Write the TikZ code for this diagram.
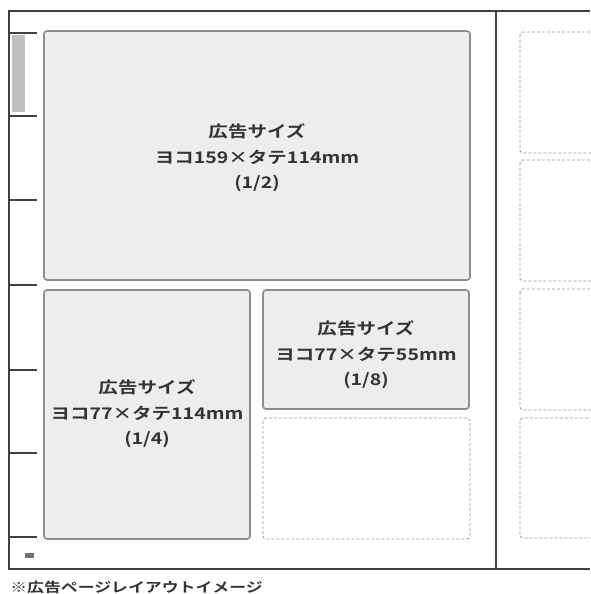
\documentclass[tikz,border=0pt]{standalone}
\usepackage{fontspec}
\setmainfont{Noto Sans CJK JP}[BoldFont={Noto Sans CJK JP Bold}]
\begin{document}
\begin{tikzpicture}[x=1pt,y=-1pt,
  frame/.style={draw=black!75,line width=1.8pt},
  tick/.style={draw=black!75,line width=1.4pt},
  adbox/.style={draw=black!45,fill=black!7,line width=1.6pt,rounded corners=3pt},
  emptybox/.style={draw=black!40,dashed,dash pattern=on 3pt off 2pt,line width=0.8pt,rounded corners=3pt},
  adtext/.style={align=center,font=\bfseries\fontsize{16}{25.5}\selectfont,text=black!80,xscale=1.22,inner sep=0pt}]
\useasboundingbox (0,0) rectangle (590,594);
% outer frame
\draw[frame] (590,11) -- (9,11) -- (9,569) -- (590,569);
\draw[frame] (496,11) -- (496,569);
% left ruler
\fill[black!25] (12,35) rectangle (25,112);
\foreach \y in {33,116,200,285,370,453,537} \draw[tick] (9,\y) -- (37,\y);
\fill[black!55] (25,553) rectangle (34,558);
% left page boxes
\draw[adbox] (44,31) rectangle (470,280);
\draw[adbox] (44,290) rectangle (250,539);
\draw[adbox] (263,290) rectangle (469,409);
\draw[emptybox] (263,418) rectangle (470,539);
% right page boxes
\draw[emptybox] (520,32) rectangle (600,153);
\draw[emptybox] (520,160) rectangle (600,281);
\draw[emptybox] (520,289) rectangle (600,410);
\draw[emptybox] (520,418) rectangle (600,538);
% texts
\node[adtext] (half) at (257,158) {広告サイズ\\ヨコ159×タテ114mm\\(1/2)};
\node[adtext] (quarter) at (147,414) {広告サイズ\\ヨコ77×タテ114mm\\(1/4)};
\node[adtext] (eighth) at (366,355) {広告サイズ\\ヨコ77×タテ55mm\\(1/8)};
\node[anchor=west,font=\bfseries\fontsize{13.5}{13.5}\selectfont,text=black!80,xscale=1.25,inner sep=0pt] (cap) at (10,587) {※広告ページレイアウトイメージ};
\end{tikzpicture}
\end{document}
